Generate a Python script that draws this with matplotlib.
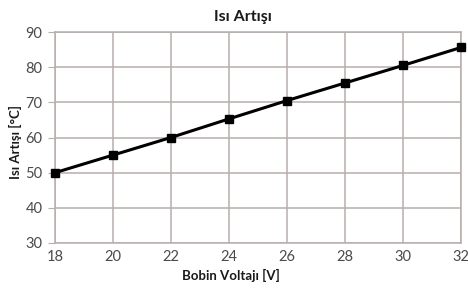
import matplotlib
matplotlib.use("Agg")
import matplotlib.pyplot as plt

voltage = [18, 20, 22, 24, 26, 28, 30, 32]
temp_rise = [50, 55, 60, 65.3, 70.5, 75.5, 80.5, 85.6]
x_ticks = [18, 20, 22, 24, 26, 28, 30, 32]
y_ticks = [30, 40, 50, 60, 70, 80, 90]

plt.rcParams['font.family'] = ['Lato', 'DejaVu Sans']

fig = plt.figure(figsize=(4.68, 2.88), dpi=100)
ax = fig.add_axes([55/468, 1 - 243/288, (461-55)/468, (243-32)/288])

grid_c = '#b8aeab'
ax.plot(voltage, temp_rise, color='black', lw=2.2, marker='s', ms=6, zorder=3, clip_on=False)
ax.set_xlim(18, 32)
ax.set_ylim(30, 90)
ax.set_xticks(x_ticks)
ax.set_yticks(y_ticks)
ax.grid(True, color=grid_c, lw=1.1)
for s in ax.spines.values():
    s.set_color(grid_c)
    s.set_linewidth(1.1)
ax.tick_params(axis='x', length=0, pad=5, labelsize=10.5, colors='#4a4a4a')
ax.tick_params(axis='y', length=5, pad=4, labelsize=10.5, colors='#4a4a4a')
ax.tick_params(axis='y', color=grid_c)

fig.text(243/468, 1 - 17/288, 'Isı Artışı', fontsize=11.5, fontweight='bold',
         ha='center', va='center', color='#1a1a1a')
fig.text(231/468, 1 - 275/288, 'Bobin Voltajı [V]', fontsize=9.5, fontweight='bold',
         ha='center', va='center', color='#1a1a1a')
fig.text(15/468, 1 - 142/288, 'Isı Artışı [°C]', fontsize=9.5, fontweight='bold',
         ha='center', va='center', rotation=90, color='#1a1a1a')

fig.savefig('out.png', dpi=100)
